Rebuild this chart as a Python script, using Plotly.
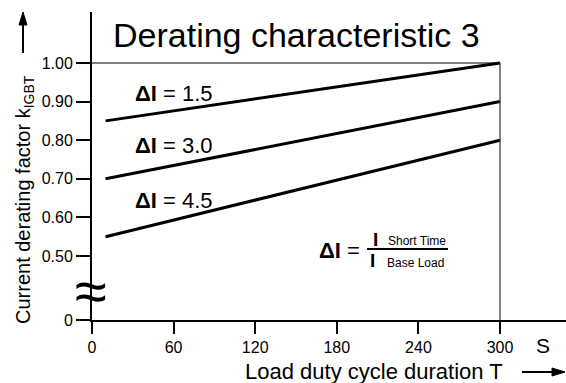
import plotly.graph_objects as go

# ---- data ----
T_points = [10, 300]
k_dI_15 = [0.85, 1.00]
k_dI_30 = [0.70, 0.90]
k_dI_45 = [0.55, 0.80]
series_names = ["ΔI = 1.5", "ΔI = 3.0", "ΔI = 4.5"]
x_ticks = [0, 60, 120, 180, 240, 300]
y_ticks = [0.50, 0.60, 0.70, 0.80, 0.90, 1.00]
y_tick_text = ["0.50", "0.60", "0.70", "0.80", "0.90", "1.00"]
Y_BREAK_ZERO = 0.3342   # axis position labelled "0" (broken axis)
Y_TOP = 1.1321
X_MAX = 348.5

W, H = 566, 383
L, R, Tm, B = 92, 0, 12, 63
PW, PH = W - L - R, H - Tm - B
FONT = "Liberation Sans, Arial, Helvetica, sans-serif"


def px(x):
    return (x - L) / PW


def py(y):
    return (H - B - y) / PH


fig = go.Figure()
for name, ys in zip(series_names, [k_dI_15, k_dI_30, k_dI_45]):
    fig.add_trace(go.Scatter(x=T_points, y=ys, mode="lines", name=name,
                             line=dict(color="black", width=3), showlegend=False,
                             hoverinfo="skip"))

# reference lines: k = 1.00 and T = 300
fig.add_shape(type="line", xref="x", yref="y", x0=0, x1=300, y0=1.0, y1=1.0,
              line=dict(color="black", width=1.2))
fig.add_shape(type="line", xref="x", yref="y", x0=300, x1=300, y0=Y_BREAK_ZERO, y1=1.0,
              line=dict(color="#333333", width=1.2))


def arrow(x0, y0, x1, y1, head=12, half=4):
    # shaft + filled triangular head, given in pixel coordinates
    fig.add_shape(type="line", xref="paper", yref="paper",
                  x0=px(x0), y0=py(y0), x1=px(x1), y1=py(y1),
                  line=dict(color="black", width=2))
    if x0 == x1:  # vertical, pointing up
        pts = [(x1, y1 - 1), (x1 - half, y1 + head), (x1 + half, y1 + head)]
    else:  # horizontal, pointing right
        pts = [(x1 + 1, y1), (x1 - head, y1 - half), (x1 - head, y1 + half)]
    path = "M {} {} L {} {} L {} {} Z".format(*[v for p in pts for v in (px(p[0]), py(p[1]))])
    fig.add_shape(type="path", xref="paper", yref="paper", path=path,
                  fillcolor="black", line=dict(color="black", width=1))


ann = []
# title
ann.append(dict(text="Derating characteristic 3", xref="paper", yref="paper",
                x=px(111), y=py(35), xanchor="left", yanchor="middle", showarrow=False,
                font=dict(size=34, color="black", family=FONT)))
# series labels (data coordinates)
label_y = [0.92, 0.787, 0.645]
for name, ly in zip(series_names, label_y):
    ann.append(dict(text="<b>ΔI</b>" + name[2:], xref="x", yref="y", x=30, y=ly,
                    xanchor="left", yanchor="middle", showarrow=False,
                    font=dict(size=22, color="black", family=FONT)))
# y-axis title
ann.append(dict(text="Current derating factor k<sub>IGBT</sub>", xref="paper", yref="paper",
                x=px(24), y=py(200), xanchor="center", yanchor="middle", textangle=-90,
                showarrow=False, font=dict(size=20, color="black", family=FONT)))
arrow(23, 53, 23, 13)
# x-axis title
ann.append(dict(text="Load duty cycle duration T", xref="paper", yref="paper",
                x=px(243), y=py(371), xanchor="left", yanchor="middle", showarrow=False,
                font=dict(size=22, color="black", family=FONT)))
arrow(522, 372, 564, 372)
# unit
ann.append(dict(text="S", xref="paper", yref="paper", x=px(543), y=py(345),
                xanchor="center", yanchor="middle", showarrow=False,
                font=dict(size=21, color="black", family=FONT)))
# formula
ann.append(dict(text="<b>ΔI</b> =", xref="paper", yref="paper", x=px(317), y=py(250),
                xanchor="left", yanchor="middle", showarrow=False,
                font=dict(size=22, color="black", family=FONT)))
ann.append(dict(text="<b>I</b>", xref="paper", yref="paper", x=px(375), y=py(239),
                xanchor="center", yanchor="middle", showarrow=False,
                font=dict(size=19, color="black", family=FONT)))
ann.append(dict(text="Short Time", xref="paper", yref="paper", x=px(386), y=py(241),
                xanchor="left", yanchor="middle", showarrow=False,
                font=dict(size=12, color="black", family=FONT)))
ann.append(dict(text="<b>I</b>", xref="paper", yref="paper", x=px(372), y=py(260),
                xanchor="center", yanchor="middle", showarrow=False,
                font=dict(size=19, color="black", family=FONT)))
ann.append(dict(text="Base Load", xref="paper", yref="paper", x=px(385), y=py(263),
                xanchor="left", yanchor="middle", showarrow=False,
                font=dict(size=12, color="black", family=FONT)))
# axis break symbol
ann.append(dict(text="≈", xref="paper", yref="paper", x=px(91), y=py(290),
                xanchor="center", yanchor="middle", showarrow=False,
                font=dict(size=58, color="black", family=FONT)))

fig.add_shape(type="line", xref="paper", yref="paper", x0=px(367), x1=px(448),
              y0=py(249), y1=py(249), line=dict(color="black", width=2))

fig.update_layout(
    width=W, height=H,
    margin=dict(l=L, r=R, t=Tm, b=B, pad=0),
    paper_bgcolor="white", plot_bgcolor="white",
    showlegend=False,
    annotations=ann,
    xaxis=dict(range=[0, X_MAX], tickvals=x_ticks, ticktext=[str(v) for v in x_ticks],
               showline=True, linecolor="black", linewidth=2, ticks="outside",
               ticklen=12, tickwidth=2, tickcolor="black", showgrid=False, zeroline=False,
               automargin=False,
               tickfont=dict(size=16, color="black", family=FONT)),
    yaxis=dict(range=[Y_BREAK_ZERO, Y_TOP], tickvals=[Y_BREAK_ZERO] + y_ticks,
               ticktext=["0"] + y_tick_text,
               showline=True, linecolor="black", linewidth=2, ticks="outside",
               ticklen=14, tickwidth=2, tickcolor="black", showgrid=False, zeroline=False,
               automargin=False,
               tickfont=dict(size=16, color="black", family=FONT)),
)

fig.write_html("out.html", config={"displayModeBar": False},
               post_script="document.body.style.margin='0';document.body.style.overflow='hidden';")
